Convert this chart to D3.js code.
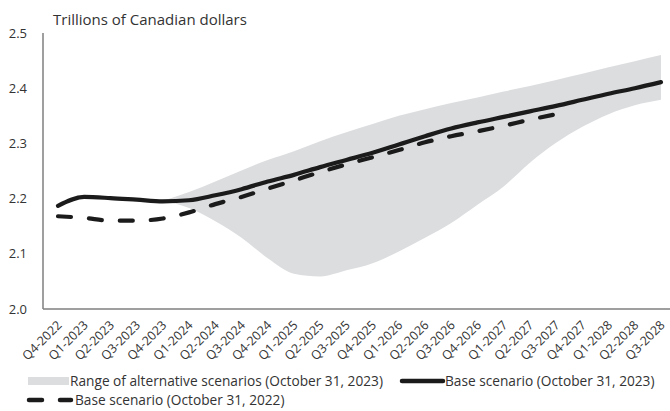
<!DOCTYPE html>
<html>
<head>
<meta charset="utf-8">
<script src="https://cdn.jsdelivr.net/npm/d3@7"></script>
<style>
  html, body { margin: 0; padding: 0; background: #fff; }
  svg { display: block; font-family: "Open Sans", sans-serif; }
</style>
</head>
<body>
<svg id="chart" width="670" height="411"></svg>
<script>
// Quarterly periods shown on the horizontal axis
const quarters = [
  "Q4-2022","Q1-2023","Q2-2023","Q3-2023","Q4-2023","Q1-2024","Q2-2024","Q3-2024",
  "Q4-2024","Q1-2025","Q2-2025","Q3-2025","Q4-2025","Q1-2026","Q2-2026","Q3-2026",
  "Q4-2026","Q1-2027","Q2-2027","Q3-2027","Q4-2027","Q1-2028","Q2-2028","Q3-2028"
];

// Base scenario (October 31, 2023), trillions of CAD
const base2023 = [
  2.187, 2.203, 2.201, 2.198, 2.195, 2.197, 2.206, 2.217,
  2.231, 2.243, 2.257, 2.270, 2.283, 2.298, 2.313, 2.327,
  2.338, 2.348, 2.358, 2.368, 2.379, 2.390, 2.400, 2.411
];

// Base scenario (October 31, 2022), ends at Q3-2027
const base2022 = [
  2.168, 2.165, 2.160, 2.160, 2.164, 2.175, 2.190, 2.203,
  2.218, 2.233, 2.248, 2.262, 2.275, 2.288, 2.302, 2.313,
  2.322, 2.332, 2.343, 2.353
];

// Range of alternative scenarios, starting at Q4-2023
const rangeStart = "Q4-2023";
const rangeUpper = [
  2.196, 2.212, 2.231, 2.251, 2.270, 2.286, 2.304, 2.320, 2.335, 2.350,
  2.362, 2.373, 2.383, 2.394, 2.404, 2.415, 2.426, 2.438, 2.449, 2.460
];
const rangeLower = [
  2.196, 2.183, 2.159, 2.129, 2.092, 2.064, 2.059, 2.070, 2.083, 2.104,
  2.129, 2.156, 2.189, 2.222, 2.265, 2.301, 2.330, 2.353, 2.369, 2.379
];

const yTicks = [2.0, 2.1, 2.2, 2.3, 2.4, 2.5];

const svg = d3.select("#chart");
const axisColor = "#7f7f7f";
const inkColor = "#1b1b1b";
const textColor = "#333";

const x = d3.scalePoint().domain(quarters).range([58, 661]);
const y = d3.scaleLinear().domain([2.0, 2.5]).range([309, 33]);

const startIdx = quarters.indexOf(rangeStart);
const rangeData = rangeUpper.map((u, i) => ({ q: quarters[startIdx + i], hi: u, lo: rangeLower[i] }));
const s2023 = base2023.map((v, i) => ({ q: quarters[i], v }));
const s2022 = base2022.map((v, i) => ({ q: quarters[i], v }));

// Shaded scenario band
svg.append("path")
  .datum(rangeData)
  .attr("fill", "#dcdddf")
  .attr("d", d3.area()
    .x(d => x(d.q))
    .y0(d => y(d.lo))
    .y1(d => y(d.hi))
    .curve(d3.curveMonotoneX));

// Dashed 2022 base scenario
svg.append("path")
  .datum(s2022)
  .attr("fill", "none")
  .attr("stroke", inkColor)
  .attr("stroke-width", 4.2)
  .attr("stroke-linecap", "round")
  .attr("stroke-dasharray", "13,18")
  .attr("d", d3.line().x(d => x(d.q)).y(d => y(d.v)).curve(d3.curveMonotoneX));

// Solid 2023 base scenario
svg.append("path")
  .datum(s2023)
  .attr("fill", "none")
  .attr("stroke", inkColor)
  .attr("stroke-width", 4.2)
  .attr("stroke-linecap", "round")
  .attr("stroke-linejoin", "round")
  .attr("d", d3.line().x(d => x(d.q)).y(d => y(d.v)).curve(d3.curveMonotoneX));

// Y axis
const yAxis = svg.append("g")
  .attr("transform", "translate(43,0)")
  .call(d3.axisLeft(y).tickValues(yTicks).tickFormat(d3.format(".1f")).tickSize(0).tickPadding(16));
yAxis.select(".domain").attr("stroke", axisColor).attr("stroke-width", 1.5).attr("d", `M0,${y(2.5)}V${y(2.0)}`);
yAxis.selectAll("text").attr("fill", textColor).style("font-size", "13px").style("font-family", "'Open Sans', sans-serif");

// X axis
const xAxis = svg.append("g")
  .attr("transform", `translate(0,${y(2.0)})`)
  .call(d3.axisBottom(x).tickSize(0).tickPadding(0));
xAxis.select(".domain").attr("stroke", axisColor).attr("stroke-width", 1.5).attr("d", "M43,0H670");
xAxis.selectAll("text")
  .attr("fill", textColor)
  .style("font-size", "12.5px")
  .style("font-family", "'Open Sans', sans-serif")
  .attr("text-anchor", "end")
  .attr("dy", 0)
  .attr("transform", "translate(4,17) rotate(-45)");

// Unit label
svg.append("text")
  .attr("x", 53).attr("y", 25)
  .attr("fill", textColor)
  .style("font-size", "15px")
  .text("Trillions of Canadian dollars");

// Legend
const legend = svg.append("g").style("font-size", "13.7px").attr("fill", textColor);

legend.append("rect").attr("x", 28).attr("y", 377).attr("width", 41).attr("height", 8).attr("fill", "#dcdddf");
legend.append("text").attr("x", 70).attr("y", 386).text("Range of alternative scenarios (October 31, 2023)");

legend.append("line").attr("x1", 402).attr("x2", 443).attr("y1", 381).attr("y2", 381)
  .attr("stroke", inkColor).attr("stroke-width", 4.5).attr("stroke-linecap", "round");
legend.append("text").attr("x", 445).attr("y", 386).text("Base scenario (October 31, 2023)");

legend.append("line").attr("x1", 29).attr("x2", 71).attr("y1", 400).attr("y2", 400)
  .attr("stroke", inkColor).attr("stroke-width", 4.5).attr("stroke-linecap", "round")
  .attr("stroke-dasharray", "13,18");
legend.append("text").attr("x", 75).attr("y", 405).text("Base scenario (October 31, 2022)");
</script>
</body>
</html>
